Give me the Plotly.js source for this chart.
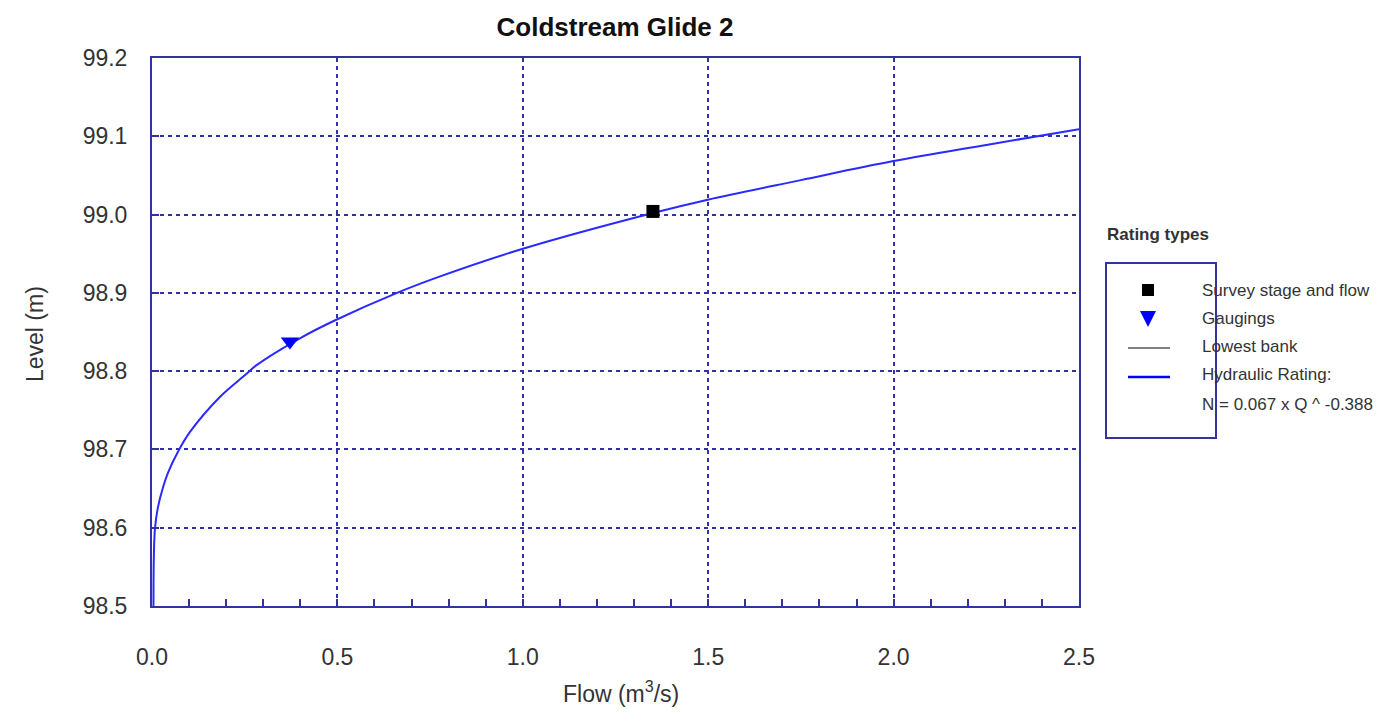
<!DOCTYPE html>
<html><head><meta charset="utf-8">
<script src="https://cdn.plot.ly/plotly-3.0.1.min.js"></script>
<style>html,body{margin:0;padding:0;background:#fff}#chart{width:1386px;height:714px}</style>
</head><body><div id="chart"></div>
<script>
// Hydraulic rating curve (flow m3/s, level m)
const ratingFlow  = [0.004, 0.005, 0.008, 0.016, 0.030, 0.043, 0.070, 0.102, 0.183, 0.251, 0.283, 0.399, 0.494, 0.661, 0.777, 0.998, 1.351, 1.499, 1.75, 1.996, 2.25, 2.5];
const ratingLevel = [98.50, 98.563, 98.599, 98.626, 98.652, 98.670, 98.697, 98.722, 98.767, 98.795, 98.808, 98.842, 98.865, 98.900, 98.921, 98.956, 99.002, 99.019, 99.044, 99.068, 99.089, 99.109];
// Survey stage and flow
const surveyFlow = [1.351];
const surveyLevel = [99.004];
// Gaugings
const gaugingFlow = [0.372];
const gaugingLevel = [98.838];
// Tick labels
const xTicks = [0.0, 0.5, 1.0, 1.5, 2.0, 2.5];
const xTickText = ['0.0', '0.5', '1.0', '1.5', '2.0', '2.5'];
const yTicks = [98.5, 98.6, 98.7, 98.8, 98.9, 99.0, 99.1, 99.2];
const yTickText = ['98.5', '98.6', '98.7', '98.8', '98.9', '99.0', '99.1', '99.2'];
const legendLabels = ['Survey stage and flow', 'Gaugings', 'Lowest bank', 'Hydraulic Rating:', 'N = 0.067 x Q ^ -0.388'];

const W = 1386, H = 714;
const L = 152, R = 1079, T = 58, B = 606;
const px = x => (x - L) / (R - L);
const py = y => (B - y) / (B - T);

const FONT = 'Liberation Sans, Arial, sans-serif';
const TXT = '#333333';
const AX = '#3333a0';

const traces = [
  {x: ratingFlow, y: ratingLevel, mode: 'lines', line: {color: '#2a2aff', width: 2, shape: 'spline', smoothing: 1}, hoverinfo: 'x+y'},
  {x: gaugingFlow, y: gaugingLevel, mode: 'markers', marker: {symbol: 'triangle-down', size: 16, color: '#0000ff'}},
  {x: surveyFlow, y: surveyLevel, mode: 'markers', marker: {symbol: 'square', size: 13, color: '#000000'}}
];

const shapes = [
  {type: 'rect', xref: 'paper', yref: 'paper', x0: px(1106), x1: px(1216), y0: py(438), y1: py(263), line: {color: AX, width: 2}},
  {type: 'rect', xref: 'paper', yref: 'paper', x0: px(1142), x1: px(1154), y0: py(296), y1: py(284), fillcolor: '#000', line: {width: 0}},
  {type: 'path', xref: 'paper', yref: 'paper', path: 'M ' + px(1140) + ' ' + py(311) + ' L ' + px(1156) + ' ' + py(311) + ' L ' + px(1148) + ' ' + py(327) + ' Z', fillcolor: '#0000ff', line: {width: 0}},
  {type: 'line', xref: 'paper', yref: 'paper', x0: px(1128), x1: px(1170), y0: py(348), y1: py(348), line: {color: '#808080', width: 2}},
  {type: 'line', xref: 'paper', yref: 'paper', x0: px(1128), x1: px(1170), y0: py(377), y1: py(377), line: {color: '#0000ff', width: 2.5}}
];

const legY = [290, 318, 346, 375, 404];
const annotations = [
  {text: 'Level (m)', xref: 'paper', yref: 'paper', x: px(35), y: py(334), textangle: -90, showarrow: false, font: {family: FONT, size: 23, color: TXT}, xanchor: 'center', yanchor: 'middle'},
  {text: 'Flow (m<sup>3</sup>/s)', xref: 'paper', yref: 'paper', x: px(621), y: py(692), showarrow: false, font: {family: FONT, size: 23, color: TXT}, xanchor: 'center', yanchor: 'middle'},
  {text: '<b>Rating types</b>', xref: 'paper', yref: 'paper', x: px(1105), y: py(234), showarrow: false, font: {family: FONT, size: 17, color: TXT}, xanchor: 'left', yanchor: 'middle'}
];
legendLabels.forEach((t, i) => annotations.push({text: t, xref: 'paper', yref: 'paper', x: px(1200), y: py(legY[i]), showarrow: false, font: {family: FONT, size: 17, color: TXT}, xanchor: 'left', yanchor: 'middle'}));

const layout = {
  width: W, height: H,
  margin: {l: L, r: W - R, t: T, b: H - B, pad: 0},
  paper_bgcolor: '#fff', plot_bgcolor: '#fff',
  showlegend: false,
  title: {text: '<b>Coldstream Glide 2</b>', x: px(615), xref: 'paper', xanchor: 'center', y: 1 - 27 / H, yref: 'container', yanchor: 'middle', font: {family: FONT, size: 26, color: '#111'}},
  xaxis: {
    range: [0, 2.5], tickvals: xTicks, ticktext: xTickText,
    showline: true, mirror: true, linecolor: AX, linewidth: 2,
    showgrid: true, gridcolor: AX, gridwidth: 2, griddash: '4px,4px',
    ticks: 'inside', ticklen: 7, tickcolor: AX, tickwidth: 2,
    ticklabelstandoff: 29,
    minor: {dtick: 0.1, tick0: 0, ticks: 'inside', ticklen: 7, tickcolor: AX, tickwidth: 2, showgrid: false},
    tickfont: {family: FONT, size: 23, color: TXT}, zeroline: false, fixedrange: true
  },
  yaxis: {
    range: [98.5, 99.2], tickvals: yTicks, ticktext: yTickText,
    showline: true, mirror: true, linecolor: AX, linewidth: 2,
    showgrid: true, gridcolor: AX, gridwidth: 2, griddash: '4px,4px',
    ticks: 'inside', ticklen: 7, tickcolor: AX, tickwidth: 2,
    ticklabelstandoff: 18,
    tickfont: {family: FONT, size: 23, color: TXT}, zeroline: false, fixedrange: true
  },
  shapes: shapes,
  annotations: annotations
};

Plotly.newPlot('chart', traces, layout, {displayModeBar: false, staticPlot: true});
</script></body></html>
